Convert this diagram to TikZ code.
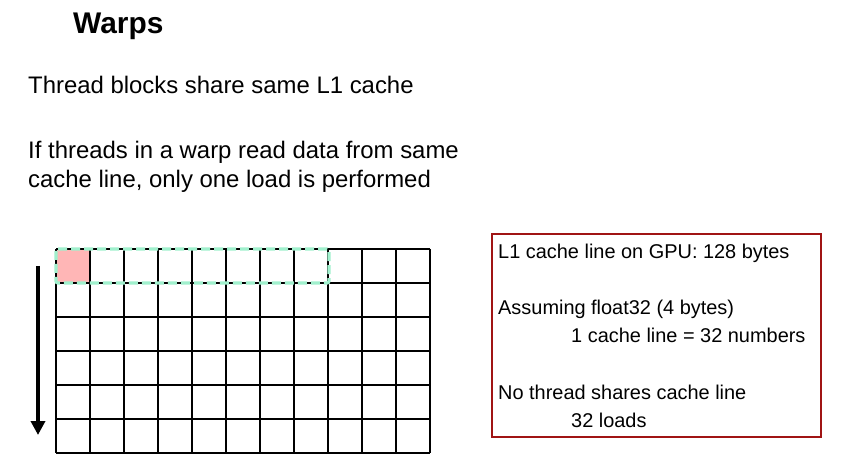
\documentclass[tikz,border=0pt]{standalone}
\usepackage{fontspec}
\setmainfont{Liberation Sans}
\usepackage{xcolor}
\usepackage{tikz}
\usetikzlibrary{arrows.meta}

\definecolor{cellpink}{RGB}{255,182,182}
\definecolor{warpgreen}{RGB}{160,240,205}
\definecolor{boxred}{RGB}{160,20,20}

\tikzset{
  txt/.style={anchor=base west, inner sep=0pt, font=\fontsize{24}{28}\selectfont},
  boxtxt/.style={anchor=base west, inner sep=0pt, font=\fontsize{20}{24}\selectfont},
}

\begin{document}
\begin{tikzpicture}[x=1bp, y=-1bp]
			\useasboundingbox (0, 0) rectangle (841, 471);

			% title and text
			\node[anchor=base west, inner sep=0pt, font=\fontsize{30}{34}\bfseries] (title) at (73, 34) {Warps};
			\node[txt] (share) at (28, 94) {Thread blocks share same L1 cache};
			\node[txt] (ifline) at (28, 159) {If threads in a warp read data from same};
			\node[txt] (cacheline) at (28, 188) {cache line, only one load is performed};

			% data grid
			\fill [cellpink] (56, 249) rectangle (90, 283);
			\foreach \i in {0,...,11}
				\draw [line width=2.4bp] (56+34*\i, 249) -- (56+34*\i, 453);
			\foreach \j in {0,...,6}
				\draw [line width=2.4bp] (56, 249+34*\j) -- (430, 249+34*\j);

			% one warp
			\draw [warpgreen, line width=3.2bp, dash pattern=on 9bp off 4bp, rounded corners=2bp] (56, 249) rectangle (329, 283);

			\draw [-{Triangle[width=14bp, length=14bp]}, line width=4bp] (38, 266) -- (38, 435);

			% info box
			\draw [boxred, line width=2.6bp] (492, 234) rectangle (821, 437);
			\node[boxtxt] (gpu) at (498, 259) {L1 cache line on GPU: 128 bytes};
			\node[boxtxt] (assume) at (498, 315) {Assuming float32 (4 bytes)};
			\node[boxtxt] (numbers) at (571, 343) {1 cache line = 32 numbers};
			\node[boxtxt] (noshare) at (498, 399) {No thread shares cache line};
			\node[boxtxt] (loads) at (571, 427) {32 loads};
		\end{tikzpicture}
\end{document}
